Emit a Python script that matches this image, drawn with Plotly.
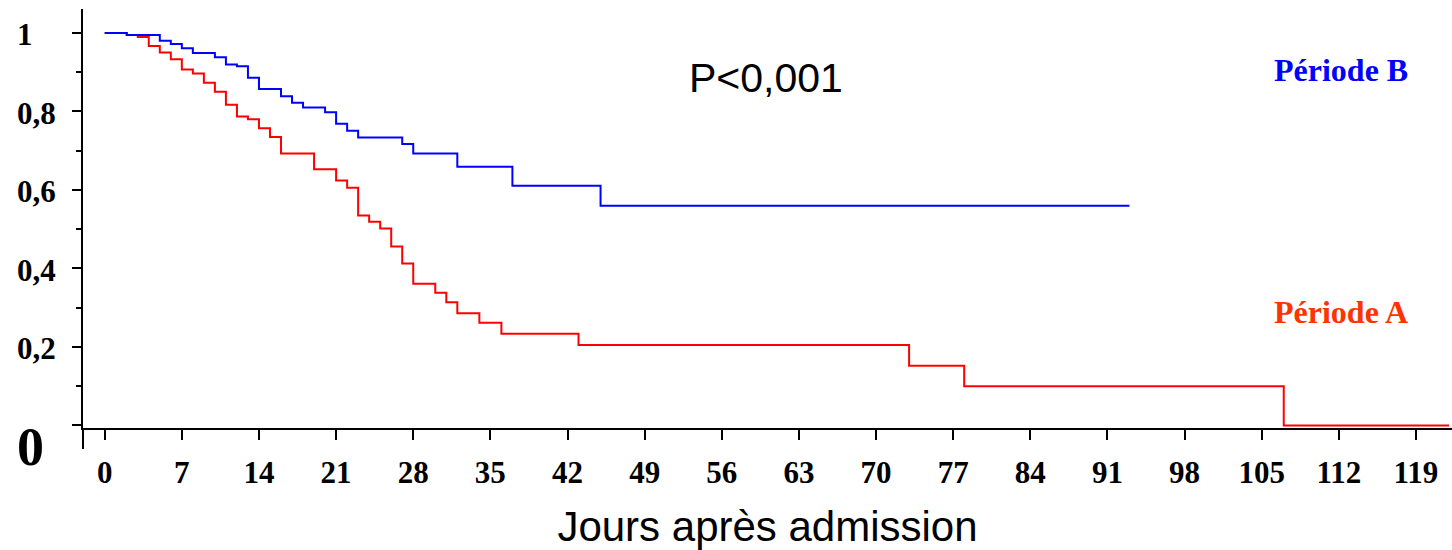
import plotly.graph_objects as go

# ---- data ----
blue_days = [0, 2, 5, 6, 7, 8, 10, 11, 12, 13, 14, 16, 17, 18, 20, 21, 22, 23, 27, 28, 32, 37, 45, 93]
blue_surv = [1.0, 0.995, 0.980, 0.972, 0.961, 0.949, 0.938, 0.920, 0.915, 0.886, 0.857,
             0.839, 0.822, 0.810, 0.798, 0.769, 0.751, 0.734, 0.717, 0.693, 0.659, 0.611, 0.560, 0.560]

red_days = [0, 2, 3, 4, 5, 6, 7, 8, 9, 10, 11, 12, 13, 14, 15, 16, 19, 21, 22, 23, 24, 25, 26, 27, 28,
            30, 31, 32, 34, 36, 43, 73, 78, 107, 122]
red_surv = [1.0, 0.995, 0.990, 0.967, 0.950, 0.933, 0.907, 0.897, 0.873, 0.850, 0.817, 0.787, 0.780,
            0.757, 0.735, 0.693, 0.653, 0.624, 0.606, 0.535, 0.519, 0.502, 0.456, 0.413, 0.361,
            0.338, 0.314, 0.286, 0.262, 0.234, 0.205, 0.152, 0.100, 0.0, 0.0]

x_tick_vals = list(range(0, 120, 7))
x_tick_labels = [str(v) for v in x_tick_vals]
y_tick_vals = [0, 0.2, 0.4, 0.6, 0.8, 1.0]
y_tick_labels = ["0", "0,2", "0,4", "0,6", "0,8", "1"]
y_minor_vals = [0.1, 0.3, 0.5, 0.7, 0.9]

series_names = ["Période A", "Période B"]
p_value_text = "P<0,001"
x_title = "Jours après admission"

W, H = 1452, 550
L, R, T, B = 83, 0, 9, 122

fig = go.Figure()
fig.add_trace(go.Scatter(x=red_days, y=red_surv, mode="lines", line_shape="hv",
                         line=dict(color="#FF0000", width=2), name=series_names[0],
                         showlegend=False))
fig.add_trace(go.Scatter(x=blue_days, y=blue_surv, mode="lines", line_shape="hv",
                         line=dict(color="#0000FF", width=2), name=series_names[1],
                         showlegend=False))

serif_bold = dict(family="Liberation Serif", size=31, color="black", weight="bold")

fig.update_layout(
    width=W, height=H,
    margin=dict(l=L, r=R, t=T, b=B, autoexpand=False),
    paper_bgcolor="white", plot_bgcolor="white",
    xaxis=dict(range=[-1.97, 122.27], tickmode="array", tickvals=x_tick_vals,
               ticktext=x_tick_labels, ticks="outside", ticklen=10, tickwidth=2,
               tickcolor="black", showline=True, linecolor="black", linewidth=2,
               showgrid=False, zeroline=False, tickfont=serif_bold,
               ticklabelstandoff=6, automargin=False,
               title=dict(text=x_title, standoff=28,
                          font=dict(family="Liberation Sans", size=42, color="black"))),
    yaxis=dict(range=[-0.0064, 1.0611], tickmode="array", tickvals=y_tick_vals,
               ticks="outside", ticklen=9, tickwidth=2, tickcolor="black",
               showticklabels=False, showline=True, linecolor="black", linewidth=2,
               showgrid=False, zeroline=False, automargin=False,
               minor=dict(tickmode="array", tickvals=y_minor_vals, ticks="outside",
                          ticklen=5, tickwidth=2, tickcolor="black", showgrid=False)),
)

# extension of the y axis line below the x axis
plot_h = H - T - B
fig.add_shape(type="line", xref="paper", yref="paper", x0=0, x1=0,
              y0=-21 / plot_h, y1=0, line=dict(color="black", width=2))

# left-aligned y tick labels
plot_w = W - L - R
lab_x = (15 - L) / plot_w
for v, t in zip(y_tick_vals, y_tick_labels):
    if t == "0":
        fig.add_annotation(x=lab_x, xref="paper", y=v, yref="y", text=t, showarrow=False,
                           xanchor="left", yanchor="middle", yshift=-22,
                           font=dict(family="Liberation Serif", size=54, color="black",
                                     weight="bold"))
    else:
        fig.add_annotation(x=lab_x, xref="paper", y=v, yref="y", text=t, showarrow=False,
                           xanchor="left", yanchor="middle", yshift=-2, font=serif_bold)

fig.add_annotation(x=60, y=0.885, xref="x", yref="y", text=p_value_text, showarrow=False,
                   xanchor="center", yanchor="middle",
                   font=dict(family="Liberation Sans", size=41, color="black"))
fig.add_annotation(x=112.2, y=0.905, xref="x", yref="y", text=series_names[1], showarrow=False,
                   xanchor="center", yanchor="middle",
                   font=dict(family="Liberation Serif", size=32, color="#0000FF", weight="bold"))
fig.add_annotation(x=112.2, y=0.29, xref="x", yref="y", text=series_names[0], showarrow=False,
                   xanchor="center", yanchor="middle",
                   font=dict(family="Liberation Serif", size=32, color="#FF3300", weight="bold"))

fig.write_html("out.html", config={"displayModeBar": False},
               post_script="document.body.style.margin='0';document.body.style.overflow='hidden';")
